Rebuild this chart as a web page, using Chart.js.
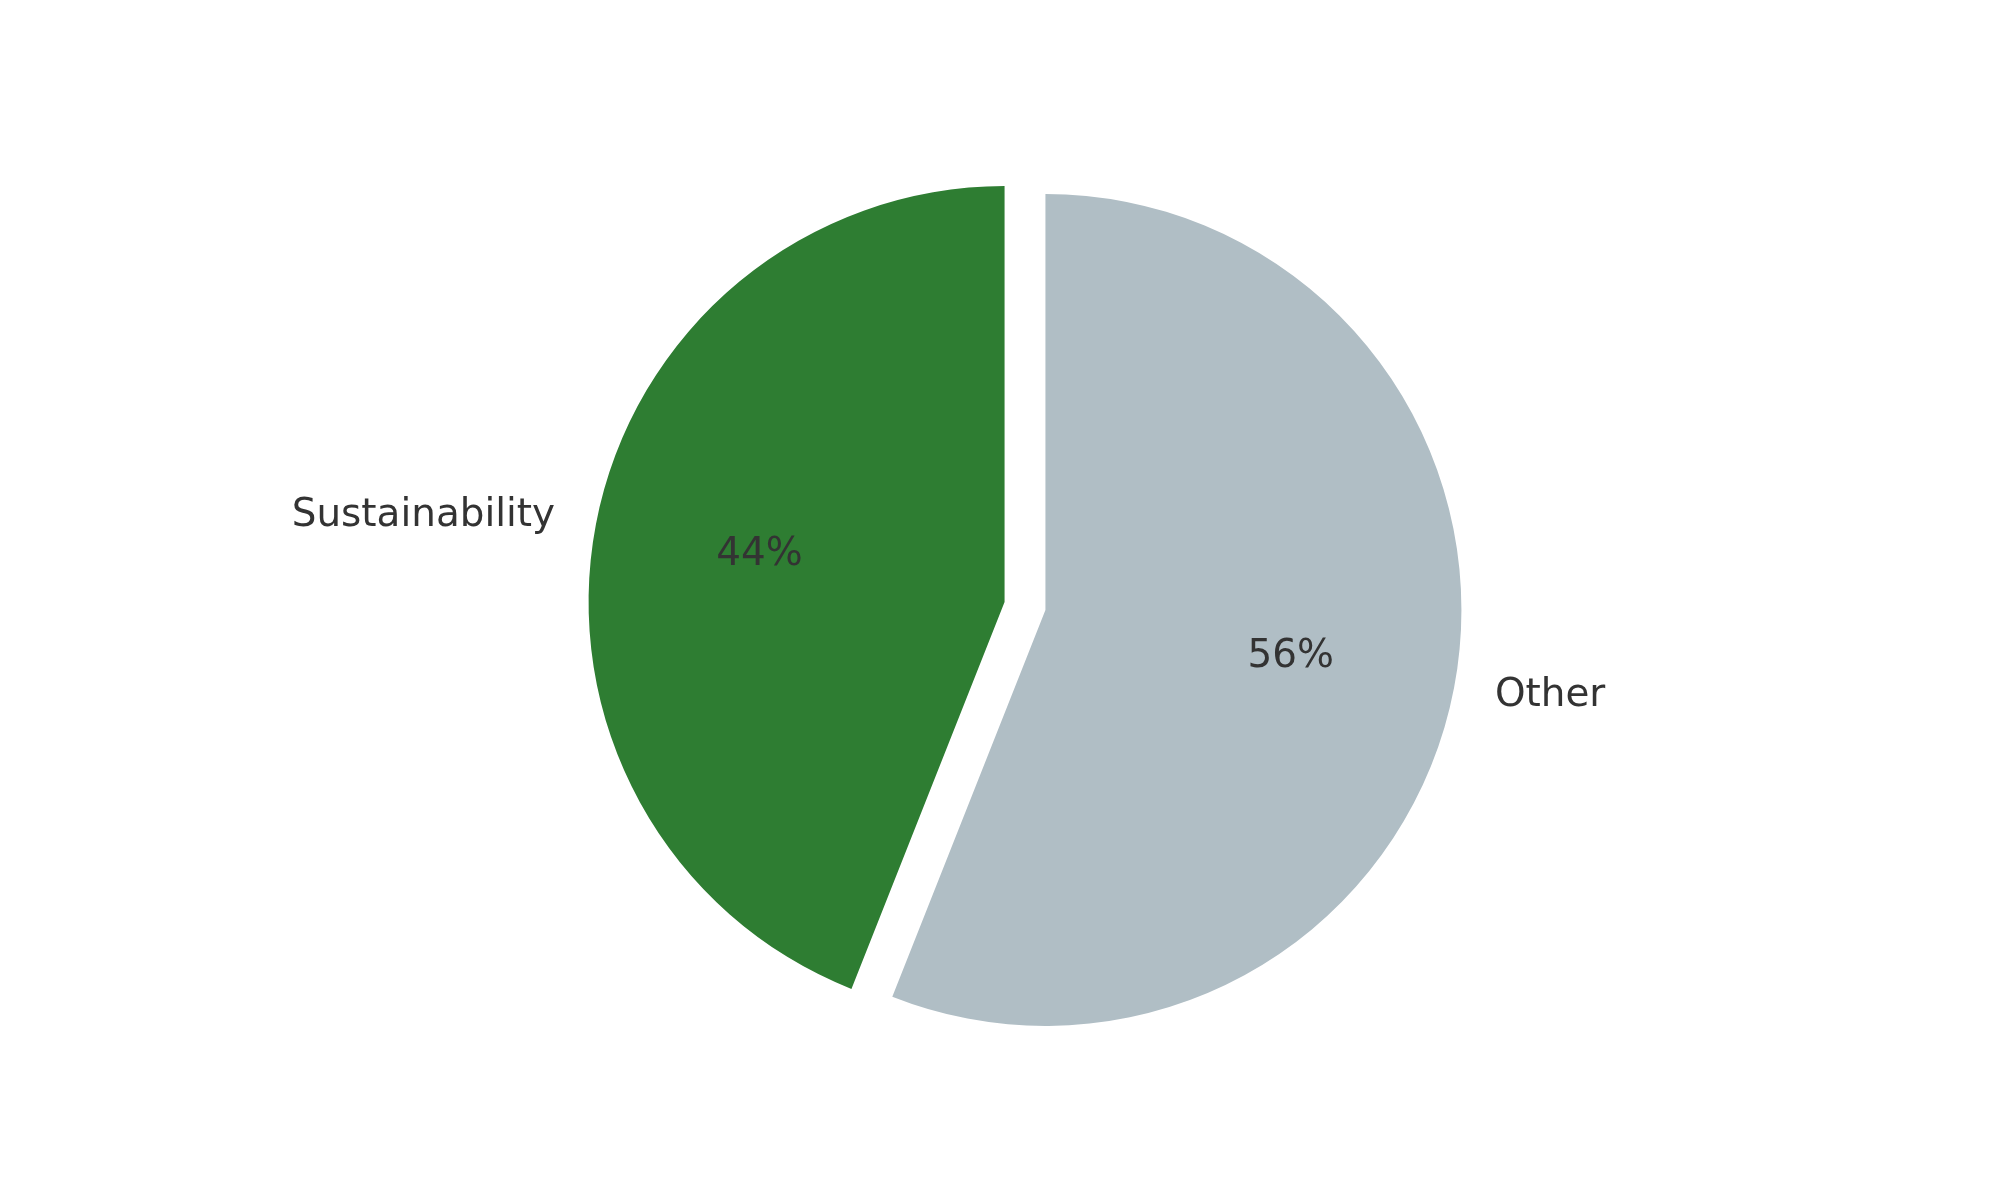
<!DOCTYPE html>
<html>
<head>
<meta charset="utf-8">
<script src="https://cdn.jsdelivr.net/npm/chart.js@4.4.1/dist/chart.umd.min.js"></script>
<style>
  html, body { margin: 0; padding: 0; background: #ffffff; }
  #wrap { width: 2000px; height: 1200px; }
</style>
</head>
<body>
<div id="wrap"><canvas id="c" width="2000" height="1200"></canvas></div>
<script>
const categories = ["Sustainability", "Other"];
const shares = [44, 56];
const sliceColors = ["#2E7D32", "#B0BEC5"];

const EXPLODE = 0.05;       // fraction of radius
const LABEL_DIST = 1.1;
const PCT_DIST = 0.6;
const FONT = '38.9px "DejaVu Sans", sans-serif';
const TEXT_COLOR = '#333333';

function explodeShift(el) {
  const mid = (el.startAngle + el.endAngle) / 2;
  const d = EXPLODE * el.outerRadius;
  return { dx: Math.cos(mid) * d, dy: Math.sin(mid) * d, mid };
}

const explodePlugin = {
  id: 'explode',
  beforeDatasetsDraw(chart) {
    const ctx = chart.ctx;
    const meta = chart.getDatasetMeta(0);
    meta.data.forEach(el => {
      const s = explodeShift(el);
      ctx.save();
      ctx.translate(s.dx, s.dy);
      el.draw(ctx);
      ctx.restore();
    });
    return false;
  },
  afterDraw(chart) {
    const ctx = chart.ctx;
    const meta = chart.getDatasetMeta(0);
    const total = shares.reduce((a, b) => a + b, 0);
    ctx.save();
    ctx.font = FONT;
    ctx.fillStyle = TEXT_COLOR;
    ctx.textBaseline = 'middle';
    meta.data.forEach((el, i) => {
      const s = explodeShift(el);
      const cx = el.x + s.dx, cy = el.y + s.dy;
      const r = el.outerRadius;
      const lx = cx + Math.cos(s.mid) * r * LABEL_DIST;
      const ly = cy + Math.sin(s.mid) * r * LABEL_DIST;
      ctx.textAlign = Math.cos(s.mid) > 0 ? 'left' : 'right';
      ctx.fillText(categories[i], lx, ly);
      const px = cx + Math.cos(s.mid) * r * PCT_DIST;
      const py = cy + Math.sin(s.mid) * r * PCT_DIST;
      ctx.textAlign = 'center';
      ctx.fillText(Math.round(shares[i] / total * 100) + '%', px, py);
    });
    ctx.restore();
  }
};

new Chart(document.getElementById('c'), {
  type: 'pie',
  data: {
    labels: categories,
    datasets: [{
      data: shares,
      backgroundColor: sliceColors,
      borderWidth: 0,
      hoverOffset: 0,
      offset: 0
    }]
  },
  options: {
    responsive: false,
    devicePixelRatio: 1,
    animation: false,
    rotation: -shares[0] / 100 * 360,
    radius: 416,
    layout: { padding: { left: 50, right: 0, top: 12, bottom: 0 } },
    plugins: {
      legend: { display: false },
      tooltip: { enabled: false }
    }
  },
  plugins: [explodePlugin]
});
</script>
</body>
</html>
